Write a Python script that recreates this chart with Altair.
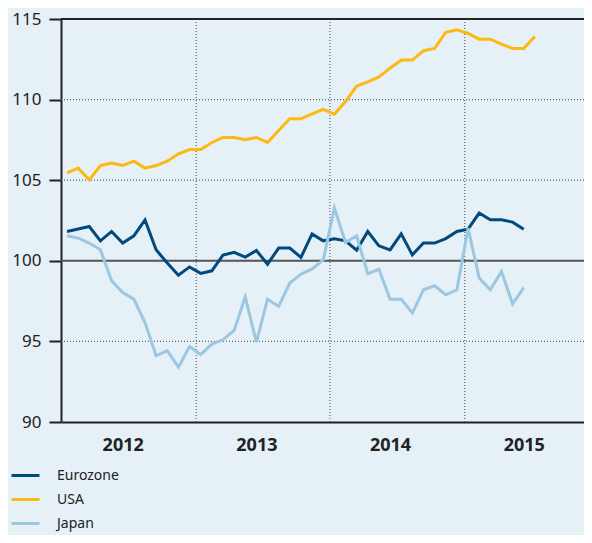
import altair as alt
import pandas as pd

months = list(range(43))
eurozone = [101.82, 101.97, 102.13, 101.24, 101.82, 101.10, 101.55, 102.54, 100.68, 99.86,
            99.10, 99.62, 99.22, 99.38, 100.35, 100.52, 100.23, 100.64, 99.79, 100.79,
            100.79, 100.21, 101.67, 101.24, 101.36, 101.24, 100.66, 101.82, 100.93, 100.68,
            101.67, 100.37, 101.10, 101.10, 101.38, 101.82, 101.96, 102.96, 102.54, 102.54,
            102.40, 101.96]
usa = [105.46, 105.75, 105.02, 105.91, 106.06, 105.91, 106.18, 105.75, 105.91, 106.18,
       106.64, 106.90, 106.90, 107.34, 107.65, 107.65, 107.51, 107.65, 107.34, 108.08,
       108.81, 108.81, 109.12, 109.39, 109.10, 109.88, 110.84, 111.10, 111.41, 111.95,
       112.45, 112.45, 113.03, 113.17, 114.18, 114.33, 114.10, 113.75, 113.75, 113.44,
       113.17, 113.17, 113.91]
japan = [101.55, 101.41, 101.10, 100.68, 98.76, 98.03, 97.62, 96.17, 94.11, 94.42,
         93.40, 94.68, 94.18, 94.83, 95.10, 95.68, 97.75, 94.96, 97.62, 97.17,
         98.62, 99.17, 99.50, 100.06, 103.27, 101.14, 101.55, 99.19, 99.47, 97.62,
         97.62, 96.76, 98.20, 98.45, 97.89, 98.20, 102.03, 98.93, 98.20, 99.34,
         97.33, 98.34]

series_names = ["Eurozone", "USA", "Japan"]
series_colors = ["#004A80", "#FDB913", "#9CC7E1"]
year_labels = ["2012", "2013", "2014", "2015"]
year_label_pos = [5, 17, 29, 41]
year_breaks = [11.6, 23.6, 35.7]
y_ticks = [90, 95, 100, 105, 110, 115]
dotted_levels = [95, 105, 110]
base_level = [100]
top_level = [115]

rows = []
for name, vals in zip(series_names, [eurozone, usa, japan]):
    for m, v in zip(months, vals):
        rows.append({"month": m, "value": v, "series": name})
df = pd.DataFrame(rows)

FONT = "Noto Sans"
xscale = alt.Scale(domain=[-0.54, 46.41], nice=False, zero=False)
yscale = alt.Scale(domain=[90, 115], nice=False, zero=False)

label_expr = " : ".join(
    [f"datum.value == {p} ? '{l}'" for p, l in zip(year_label_pos, year_labels)]
) + " : ''"

lines = alt.Chart(df).mark_line(strokeWidth=3).encode(
    x=alt.X("month:Q", scale=xscale,
            axis=alt.Axis(values=year_label_pos, labelExpr=label_expr, title=None,
                          ticks=False, domain=True, domainColor="#222222", domainWidth=2,
                          grid=False, labelFontSize=18, labelFontWeight="bold",
                          labelColor="#222222", labelPadding=14, labelFont=FONT)),
    y=alt.Y("value:Q", scale=yscale,
            axis=alt.Axis(values=y_ticks, title=None, tickSize=12, tickWidth=2,
                          tickColor="#222222", domainColor="#222222", domainWidth=2,
                          grid=False, labelFontSize=17, labelColor="#222222",
                          labelPadding=8, labelFont=FONT)),
    color=alt.Color("series:N",
                    scale=alt.Scale(domain=series_names, range=series_colors),
                    legend=alt.Legend(orient="none", legendX=-51, legendY=441,
                                      direction="vertical", title=None,
                                      symbolType="stroke", symbolSize=784,
                                      symbolStrokeWidth=3, labelFontSize=14,
                                      labelColor="#222222", labelFont=FONT,
                                      labelOffset=16, rowPadding=1)),
)

vgrid = alt.Chart(pd.DataFrame({"x": year_breaks})).mark_rule(
    color="#666666", strokeWidth=1.2, strokeDash=[1, 2]
).encode(x=alt.X("x:Q", scale=xscale))

hgrid = alt.Chart(pd.DataFrame({"y": dotted_levels})).mark_rule(
    color="#666666", strokeWidth=1.2, strokeDash=[1, 2]
).encode(y=alt.Y("y:Q", scale=yscale))

base = alt.Chart(pd.DataFrame({"y": base_level})).mark_rule(
    color="#555555", strokeWidth=2
).encode(y=alt.Y("y:Q", scale=yscale))

top = alt.Chart(pd.DataFrame({"y": top_level})).mark_rule(
    color="#222222", strokeWidth=2
).encode(y=alt.Y("y:Q", scale=yscale))

chart = alt.layer(vgrid, hgrid, base, top, lines).properties(
    width=523, height=403,
    autosize=alt.AutoSizeParams(type="none"),
    padding={"left": 53, "top": 11, "right": 0, "bottom": 113},
    background="#E5F0F7",
).configure_view(strokeWidth=0).configure(font=FONT)

chart.save("out.html", embed_options={"renderer": "svg", "actions": False})
